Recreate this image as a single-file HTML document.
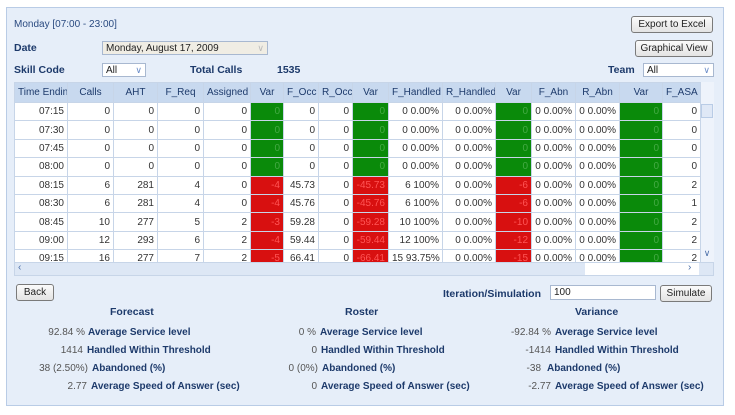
<!DOCTYPE html>
<html><head><style>
body{margin:0;width:735px;height:415px;background:#fff;font-family:"Liberation Sans",sans-serif;font-size:10px;position:relative;overflow:hidden}
.a{position:absolute}
#panel{left:6px;top:7px;width:718px;height:399px;background:#e6eef9;border:1px solid #b9cce6;box-sizing:border-box}
.lbl{color:#1d3a6b;font-weight:bold;font-size:10.5px}
.btn{background:linear-gradient(#fbfbfb,#e3e3e3);border:1px solid #7a7a7a;border-radius:3px;font-size:10px;color:#222;text-align:center;box-sizing:border-box;line-height:15px}
.sel{background:#fff;border:1px solid #a8b8d0;box-sizing:border-box;font-size:10px;padding-left:3px;line-height:13px;color:#222}
.sel i{position:absolute;right:3px;top:0;color:#6a8cc8;font-style:normal;font-size:9px}
table{border-collapse:collapse;table-layout:fixed;font-size:10px}
td,th{border:1px solid #c7d5e8;height:17.4px;padding:0 3px;text-align:right;color:#333;white-space:nowrap;overflow:hidden;line-height:17px}
th{background:#c8d9ef;text-align:center;font-weight:normal;color:#1d3a6b;height:19px}
td{background:#fff}
td.g{background:#0a8a0a;color:#4a4}
td.r{background:#d81010;color:#f55}
.s{color:#555;font-size:10px}
.sl{color:#1d3a6b;font-weight:bold;font-size:10px}
</style></head><body>
<div id="panel" class="a"></div>
<div class="a" style="left:14px;top:19px;color:#2a4a80;font-size:10px">Monday [07:00 - 23:00]</div>
<div class="a btn" style="left:631px;top:16px;width:82px;height:17px">Export to Excel</div>
<div class="a btn" style="left:635px;top:40px;width:78px;height:17px">Graphical View</div>
<div class="a lbl" style="left:14px;top:42px">Date</div>
<div class="a sel" style="left:102px;top:41px;width:166px;height:14px;background:#f0ede4">Monday, August 17, 2009<i style="color:#bbb">&#8744;</i></div>
<div class="a lbl" style="left:14px;top:64px">Skill Code</div>
<div class="a sel" style="left:102px;top:63px;width:44px;height:14px">All<i>&#8744;</i></div>
<div class="a lbl" style="left:190px;top:64px">Total Calls</div>
<div class="a lbl" style="left:277px;top:64px">1535</div>
<div class="a lbl" style="left:608px;top:64px">Team</div>
<div class="a sel" style="left:643px;top:63px;width:71px;height:14px">All<i>&#8744;</i></div>

<div class="a" style="left:14px;top:82px;width:700px;height:180px;overflow:hidden;background:#fff">
<table style="width:686px">
<colgroup><col style="width:53px"><col style="width:46px"><col style="width:44px"><col style="width:46px"><col style="width:47px"><col style="width:33px"><col style="width:35px"><col style="width:34px"><col style="width:36px"><col style="width:54px"><col style="width:53px"><col style="width:36px"><col style="width:44px"><col style="width:44px"><col style="width:43px"><col style="width:38px"></colgroup>
<tr><th>Time Ending</th><th>Calls</th><th>AHT</th><th>F_Req</th><th>Assigned</th><th>Var</th><th>F_Occ</th><th>R_Occ</th><th>Var</th><th>F_Handled</th><th>R_Handled</th><th>Var</th><th>F_Abn</th><th>R_Abn</th><th>Var</th><th>F_ASA</th></tr>
<tr><td>07:15</td><td>0</td><td>0</td><td>0</td><td>0</td><td class="g">0</td><td>0</td><td>0</td><td class="g">0</td><td>0 0.00%</td><td>0 0.00%</td><td class="g">0</td><td>0 0.00%</td><td>0 0.00%</td><td class="g">0</td><td>0</td></tr>
<tr><td>07:30</td><td>0</td><td>0</td><td>0</td><td>0</td><td class="g">0</td><td>0</td><td>0</td><td class="g">0</td><td>0 0.00%</td><td>0 0.00%</td><td class="g">0</td><td>0 0.00%</td><td>0 0.00%</td><td class="g">0</td><td>0</td></tr>
<tr><td>07:45</td><td>0</td><td>0</td><td>0</td><td>0</td><td class="g">0</td><td>0</td><td>0</td><td class="g">0</td><td>0 0.00%</td><td>0 0.00%</td><td class="g">0</td><td>0 0.00%</td><td>0 0.00%</td><td class="g">0</td><td>0</td></tr>
<tr><td>08:00</td><td>0</td><td>0</td><td>0</td><td>0</td><td class="g">0</td><td>0</td><td>0</td><td class="g">0</td><td>0 0.00%</td><td>0 0.00%</td><td class="g">0</td><td>0 0.00%</td><td>0 0.00%</td><td class="g">0</td><td>0</td></tr>
<tr><td>08:15</td><td>6</td><td>281</td><td>4</td><td>0</td><td class="r">-4</td><td>45.73</td><td>0</td><td class="r">-45.73</td><td>6 100%</td><td>0 0.00%</td><td class="r">-6</td><td>0 0.00%</td><td>0 0.00%</td><td class="g">0</td><td>2</td></tr>
<tr><td>08:30</td><td>6</td><td>281</td><td>4</td><td>0</td><td class="r">-4</td><td>45.76</td><td>0</td><td class="r">-45.76</td><td>6 100%</td><td>0 0.00%</td><td class="r">-6</td><td>0 0.00%</td><td>0 0.00%</td><td class="g">0</td><td>1</td></tr>
<tr><td>08:45</td><td>10</td><td>277</td><td>5</td><td>2</td><td class="r">-3</td><td>59.28</td><td>0</td><td class="r">-59.28</td><td>10 100%</td><td>0 0.00%</td><td class="r">-10</td><td>0 0.00%</td><td>0 0.00%</td><td class="g">0</td><td>2</td></tr>
<tr><td>09:00</td><td>12</td><td>293</td><td>6</td><td>2</td><td class="r">-4</td><td>59.44</td><td>0</td><td class="r">-59.44</td><td>12 100%</td><td>0 0.00%</td><td class="r">-12</td><td>0 0.00%</td><td>0 0.00%</td><td class="g">0</td><td>2</td></tr>
<tr><td>09:15</td><td>16</td><td>277</td><td>7</td><td>2</td><td class="r">-5</td><td>66.41</td><td>0</td><td class="r">-66.41</td><td>15 93.75%</td><td>0 0.00%</td><td class="r">-15</td><td>0 0.00%</td><td>0 0.00%</td><td class="g">0</td><td>2</td></tr>
</table>
<div class="a" style="left:686px;top:0;width:14px;height:180px;background:#eef3fb;border-left:1px solid #c7d5e8"></div>
<div class="a" style="left:687px;top:22px;width:12px;height:14px;background:#dfe8f6;border:1px solid #b9cce6;box-sizing:border-box"></div>
<div class="a" style="left:686px;top:166px;width:14px;height:14px;color:#4a6ea8;font-size:9px;text-align:center">&#8744;</div>
</div>
<div class="a" style="left:14px;top:262px;width:700px;height:14px;background:#dde7f5;border:1px solid #c7d5e8;box-sizing:border-box"></div>
<div class="a" style="left:18px;top:262px;color:#4a6ea8;font-size:10px">&lsaquo;</div>
<div class="a" style="left:585px;top:263px;width:114px;height:12px;background:#fff"></div>
<div class="a" style="left:688px;top:262px;color:#4a6ea8;font-size:10px">&rsaquo;</div>

<div class="a btn" style="left:16px;top:284px;width:38px;height:17px">Back</div>
<div class="a lbl" style="left:443px;top:288px">Iteration/Simulation</div>
<div class="a sel" style="left:550px;top:285px;width:106px;height:15px;line-height:14px">100</div>
<div class="a btn" style="left:660px;top:285px;width:52px;height:17px">Simulate</div>

<div class="a lbl" style="left:110px;top:306px">Forecast</div>
<div class="a lbl" style="left:345px;top:306px">Roster</div>
<div class="a lbl" style="left:575px;top:306px">Variance</div>

<div class="a" style="left:0;top:324px;width:735px;line-height:18px">
<div class="a" style="left:0;width:85px;text-align:right"><span class="s">92.84 %</span></div><div class="a sl" style="left:88px">Average Service level</div>
<div class="a" style="left:0;width:83px;top:18px;text-align:right"><span class="s">1414</span></div><div class="a sl" style="left:87px;top:18px">Handled Within Threshold</div>
<div class="a" style="left:0;width:88px;top:36px;text-align:right"><span class="s">38 (2.50%)</span></div><div class="a sl" style="left:92px;top:36px">Abandoned (%)</div>
<div class="a" style="left:0;width:87px;top:54px;text-align:right"><span class="s">2.77</span></div><div class="a sl" style="left:91px;top:54px">Average Speed of Answer (sec)</div>

<div class="a" style="left:0;width:316px;text-align:right"><span class="s">0 %</span></div><div class="a sl" style="left:320px">Average Service level</div>
<div class="a" style="left:0;width:317px;top:18px;text-align:right"><span class="s">0</span></div><div class="a sl" style="left:321px;top:18px">Handled Within Threshold</div>
<div class="a" style="left:0;width:318px;top:36px;text-align:right"><span class="s">0 (0%)</span></div><div class="a sl" style="left:322px;top:36px">Abandoned (%)</div>
<div class="a" style="left:0;width:317px;top:54px;text-align:right"><span class="s">0</span></div><div class="a sl" style="left:321px;top:54px">Average Speed of Answer (sec)</div>

<div class="a" style="left:0;width:551px;text-align:right"><span class="s">-92.84 %</span></div><div class="a sl" style="left:555px">Average Service level</div>
<div class="a" style="left:0;width:551px;top:18px;text-align:right"><span class="s">-1414</span></div><div class="a sl" style="left:555px;top:18px">Handled Within Threshold</div>
<div class="a" style="left:0;width:541px;top:36px;text-align:right"><span class="s">-38</span></div><div class="a sl" style="left:547px;top:36px">Abandoned (%)</div>
<div class="a" style="left:0;width:551px;top:54px;text-align:right"><span class="s">-2.77</span></div><div class="a sl" style="left:555px;top:54px">Average Speed of Answer (sec)</div>
</div>
</body></html>
